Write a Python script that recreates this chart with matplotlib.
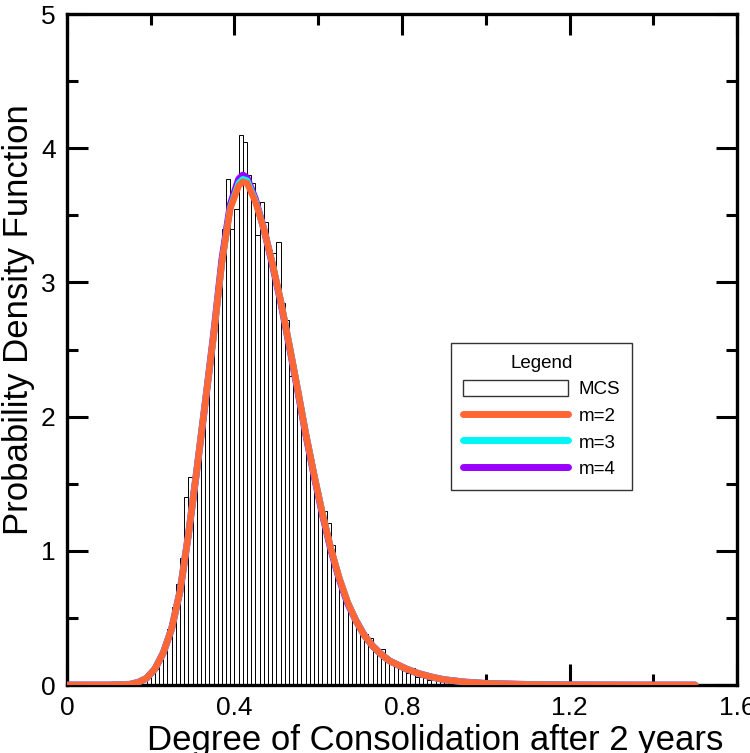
import matplotlib
matplotlib.use("Agg")
import matplotlib.pyplot as plt
from matplotlib.patches import Patch
from matplotlib.lines import Line2D
from matplotlib.ticker import MultipleLocator

plt.rcParams['font.family'] = ['Liberation Sans', 'DejaVu Sans']

# ---- Data ----
bin_left = [0.17, 0.18, 0.19, 0.20, 0.21, 0.22, 0.23, 0.24, 0.25, 0.26,
            0.27, 0.28, 0.29, 0.30, 0.31, 0.32, 0.33, 0.34, 0.35, 0.36,
            0.37, 0.38, 0.39, 0.40, 0.41, 0.42, 0.43, 0.44, 0.45, 0.46,
            0.47, 0.48, 0.49, 0.50, 0.51, 0.52, 0.53, 0.54, 0.55, 0.56,
            0.57, 0.58, 0.59, 0.60, 0.61, 0.62, 0.63, 0.64, 0.65, 0.66,
            0.67, 0.68, 0.69, 0.70, 0.71, 0.72, 0.73, 0.74, 0.75, 0.76,
            0.77, 0.78, 0.79, 0.80, 0.81, 0.82, 0.83, 0.84, 0.85, 0.86,
            0.87, 0.88, 0.89, 0.90, 0.91, 0.92, 0.93, 0.94, 0.95, 0.96,
            0.97, 0.98, 0.99]
mcs_density = [0.01, 0.03, 0.05, 0.10, 0.12, 0.20, 0.30, 0.42, 0.58, 0.75,
               0.95, 1.40, 1.55, 1.50, 1.75, 2.00, 2.20, 2.50, 2.75, 3.15,
               3.40, 3.77, 3.40, 3.55, 4.10, 4.05, 3.80, 3.74, 3.35, 3.60,
               3.45, 3.24, 3.22, 3.30, 2.85, 2.72, 2.30, 2.32, 2.10, 1.90,
               1.78, 1.56, 1.50, 1.35, 1.30, 1.21, 1.04, 0.80, 0.70, 0.65,
               0.57, 0.53, 0.45, 0.42, 0.38, 0.35, 0.28, 0.26, 0.27, 0.21,
               0.16, 0.14, 0.14, 0.12, 0.09, 0.13, 0.06, 0.06, 0.05, 0.04,
               0.04, 0.03, 0.03, 0.02, 0.02, 0.02, 0.01, 0.01, 0.03, 0.01,
               0.005, 0.005, 0.005]

curve_x = [0.0, 0.10, 0.15, 0.17, 0.19, 0.21, 0.23, 0.25, 0.27, 0.29,
           0.31, 0.33, 0.35, 0.37, 0.39, 0.41, 0.42, 0.43, 0.45, 0.47,
           0.49, 0.51, 0.53, 0.55, 0.57, 0.59, 0.61, 0.63, 0.65, 0.67,
           0.69, 0.71, 0.73, 0.75, 0.77, 0.79, 0.81, 0.84, 0.87, 0.90,
           0.95, 1.00, 1.10, 1.20, 1.35, 1.50]
pdf_m2 = [0.0, 0.0, 0.005, 0.02, 0.05, 0.12, 0.24, 0.42, 0.70, 1.12,
          1.60, 2.10, 2.60, 3.15, 3.55, 3.72, 3.75, 3.74, 3.60, 3.40,
          3.15, 2.87, 2.55, 2.22, 1.88, 1.57, 1.28, 1.02, 0.80, 0.62,
          0.48, 0.37, 0.29, 0.23, 0.18, 0.15, 0.12, 0.085, 0.06, 0.04,
          0.022, 0.012, 0.004, 0.001, 0.0, 0.0]
pdf_m3 = [0.0, 0.0, 0.005, 0.02, 0.05, 0.12, 0.24, 0.42, 0.70, 1.12,
          1.60, 2.10, 2.60, 3.15, 3.56, 3.74, 3.77, 3.76, 3.61, 3.40,
          3.15, 2.87, 2.55, 2.22, 1.88, 1.57, 1.28, 1.02, 0.80, 0.62,
          0.48, 0.37, 0.29, 0.23, 0.18, 0.15, 0.12, 0.085, 0.06, 0.04,
          0.022, 0.012, 0.004, 0.001, 0.0, 0.0]
pdf_m4 = [0.0, 0.0, 0.005, 0.02, 0.05, 0.12, 0.24, 0.42, 0.70, 1.12,
          1.60, 2.10, 2.61, 3.17, 3.58, 3.77, 3.80, 3.78, 3.62, 3.40,
          3.14, 2.86, 2.54, 2.21, 1.87, 1.56, 1.27, 1.01, 0.79, 0.61,
          0.48, 0.37, 0.29, 0.23, 0.18, 0.15, 0.12, 0.085, 0.06, 0.04,
          0.022, 0.012, 0.004, 0.001, 0.0, 0.0]

x_ticks = [0, 0.4, 0.8, 1.2, 1.6]
x_tick_labels = ['0', '0.4', '0.8', '1.2', '1.6']
y_ticks = [0, 1, 2, 3, 4, 5]

c_m2 = '#FF6633'
c_m3 = '#00F5F5'
c_m4 = '#9900FF'

fig = plt.figure(figsize=(7.5, 7.53), dpi=100)
ax = fig.add_axes([0.0893, 0.0903, 0.8934, 0.891])

ax.bar(bin_left, mcs_density, width=0.01, align='edge', facecolor='white',
       edgecolor='black', linewidth=0.7, zorder=2)
ax.plot(curve_x, pdf_m4, color=c_m4, lw=5, solid_capstyle='round', zorder=3)
ax.plot(curve_x, pdf_m3, color=c_m3, lw=4.6, solid_capstyle='round', zorder=4)
ax.plot(curve_x, pdf_m2, color=c_m2, lw=4.6, solid_capstyle='round', zorder=5)

ax.set_xlim(0, 1.6)
ax.set_ylim(0, 5)
ax.set_xticks(x_ticks)
ax.set_xticklabels(x_tick_labels)
ax.set_yticks(y_ticks)
ax.xaxis.set_minor_locator(MultipleLocator(0.2))
ax.yaxis.set_minor_locator(MultipleLocator(0.5))
ax.tick_params(which='both', direction='in', top=True, right=True,
               width=2.2, labelsize=19, pad=8)
ax.tick_params(which='major', length=15)
ax.tick_params(which='minor', length=8)
for s in ax.spines.values():
    s.set_linewidth(2.4)

ax.set_xlabel('Degree of Consolidation after 2 years', fontsize=25, labelpad=2)
ax.xaxis.set_label_coords(0.549, -0.058)
ax.set_ylabel('Probability Density Function', fontsize=25, labelpad=6)
ax.yaxis.set_label_coords(-0.047, 0.545)

handles = [Patch(facecolor='white', edgecolor='#333333', linewidth=1),
           Line2D([], [], color=c_m2, lw=5, solid_capstyle='round'),
           Line2D([], [], color=c_m3, lw=5, solid_capstyle='round'),
           Line2D([], [], color=c_m4, lw=5, solid_capstyle='round')]
labels = ['MCS', 'm=2', 'm=3', 'm=4']
leg = ax.legend(handles, labels, title='Legend', loc='upper left',
                bbox_to_anchor=(0.573, 0.5097), borderaxespad=0,
                fontsize=13.5, title_fontsize=13.5,
                handlelength=5.6, handleheight=1.0, labelspacing=0.42,
                handletextpad=0.6, borderpad=0.62, fancybox=False, framealpha=1,
                edgecolor='#333333')
leg.get_frame().set_linewidth(1)

fig.savefig('out.png', dpi=100)
